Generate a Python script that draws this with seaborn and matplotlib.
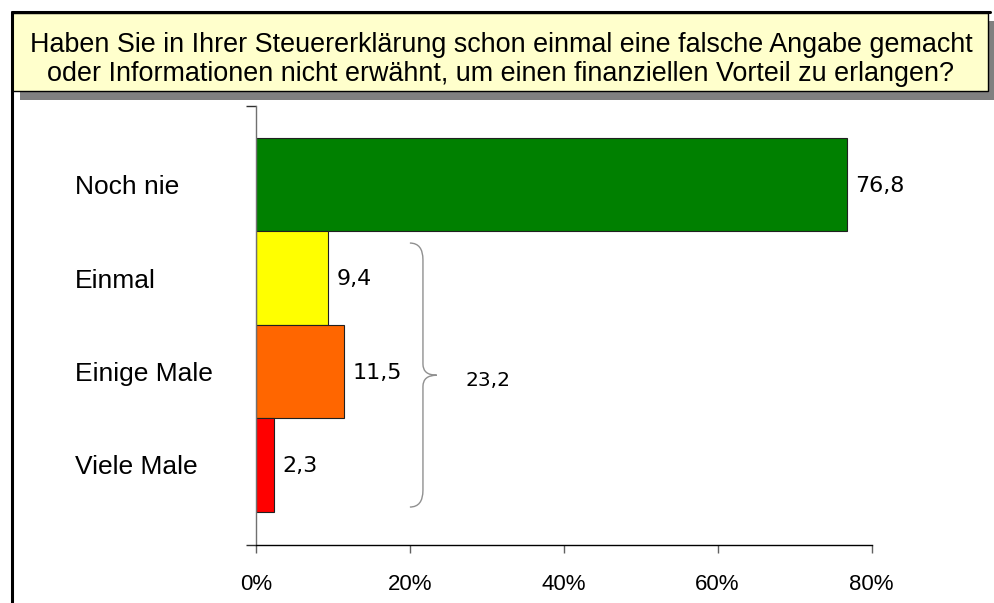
import matplotlib
matplotlib.use("Agg")
import matplotlib.pyplot as plt
import seaborn as sns
import pandas as pd
from matplotlib import font_manager as fm
from matplotlib.patches import Rectangle, PathPatch
from matplotlib.path import Path
from matplotlib.lines import Line2D

# ---- data ----
categories = ["Noch nie", "Einmal", "Einige Male", "Viele Male"]
values = [76.8, 9.4, 11.5, 2.3]
colors = ["#008000", "#FFFF00", "#FF6600", "#FF0000"]
xticks = [0, 20, 40, 60, 80]
xticklabels = ["0%", "20%", "40%", "60%", "80%"]
group = ["Einmal", "Einige Male", "Viele Male"]
title_lines = [
    "Haben Sie in Ihrer Steuererklärung schon einmal eine falsche Angabe gemacht",
    "oder Informationen nicht erwähnt, um einen finanziellen Vorteil zu erlangen?",
]

sns.set_theme(style="white")
plt.rcParams["font.family"] = ["Liberation Sans", "DejaVu Sans"]

W, H = 995, 603
fig = plt.figure(figsize=(W / 100, H / 100), dpi=100)
fig.patch.set_facecolor("white")


def fx(px):
    return px / W


def fy(py):
    return 1 - py / H


ax = fig.add_axes([fx(256), fy(545), fx(871.5) - fx(256), fy(106) - fy(545)])
df = pd.DataFrame({"cat": categories, "val": values})
sns.barplot(data=df, x="val", y="cat", hue="cat", palette=colors, saturation=1,
            width=1.0, edgecolor="#202020", linewidth=0.8, legend=False,
            orient="h", ax=ax)

ax.set_xlim(0, 80)
ax.set_ylim(3.856, -0.84)
ax.set_xlabel("")
ax.set_ylabel("")
for s in ["top", "right"]:
    ax.spines[s].set_visible(False)
ax.spines["left"].set_color("#707070")
ax.spines["left"].set_linewidth(1.0)
ax.spines["bottom"].set_color("#000000")
ax.spines["bottom"].set_linewidth(1.0)

ax.set_xticks(xticks, xticklabels)
ax.tick_params(axis="x", bottom=True, direction="out", length=6, width=1,
               color="#606060", labelsize=16, pad=15, labelcolor="black")
ax.set_yticks(range(len(categories)), categories)
ax.tick_params(axis="y", which="major", left=True, length=0, labelsize=19,
               pad=130.5, labelcolor="black")
for lab in ax.get_yticklabels():
    lab.set_horizontalalignment("left")
ax.set_yticks([-0.84, 3.856], minor=True)
ax.tick_params(axis="y", which="minor", left=True, direction="out", length=7,
               width=1, color="#303030")

# value labels
for i, v in enumerate(values):
    ax.annotate(f"{v:.1f}".replace(".", ","), xy=(v, i), xytext=(6, -1),
                textcoords="offset points", ha="left", va="center",
                fontsize=16, family="DejaVu Sans", color="black")

# brace for the group
x0, x1, xm = 20.0, 21.7, 23.5
yt, yb, ym = 0.626, 3.45, 2.04
r, r2 = 0.18, 0.12
verts = [(x0, yt), (x1, yt), (x1, yt + r),
         (x1, ym - r2), (x1, ym), (xm, ym),
         (x1, ym), (x1, ym + r2),
         (x1, yb - r), (x1, yb), (x0, yb)]
codes = [Path.MOVETO, Path.CURVE3, Path.CURVE3,
         Path.LINETO, Path.CURVE3, Path.CURVE3,
         Path.CURVE3, Path.CURVE3,
         Path.LINETO, Path.CURVE3, Path.CURVE3]
ax.add_patch(PathPatch(Path(verts, codes), fill=False, edgecolor="#909090",
                       linewidth=1.0, clip_on=False))
total = sum(values[categories.index(g)] for g in group)
ax.text(27.2, 2.1, f"{total:.1f}".replace(".", ","), ha="left", va="center",
        fontsize=14.5, family="DejaVu Sans", color="black")

# title box with shadow
fig.patches.append(Rectangle((fx(20), fy(100)), fx(996) - fx(20), fy(21) - fy(100),
                             transform=fig.transFigure, facecolor="#808080",
                             edgecolor="none", zorder=1))
fig.patches.append(Rectangle((fx(12), fy(91)), fx(988) - fx(12), fy(13) - fy(91),
                             transform=fig.transFigure, facecolor="#FFFFCC",
                             edgecolor="#000000", linewidth=1.0, zorder=2))
fig.add_artist(Line2D([fx(12), fx(990)], [fy(12), fy(12)], color="black",
                      linewidth=2.2, transform=fig.transFigure, zorder=5))
fig.add_artist(Line2D([fx(12), fx(12)], [fy(12), fy(603)], color="black",
                      linewidth=2.2, transform=fig.transFigure, zorder=5))

names = {f.name for f in fm.fontManager.ttflist}
tfam = "Liberation Sans Narrow" if "Liberation Sans Narrow" in names else "Liberation Sans"
t1 = fig.text(fx(501), fy(45), title_lines[0], ha="center", va="center",
              fontsize=18, family=tfam, color="black", zorder=6)
t2 = fig.text(fx(501), fy(74), title_lines[1], ha="center", va="center",
              fontsize=18, family=tfam, color="black", zorder=6)
renderer = fig.canvas.get_renderer()
w = t1.get_window_extent(renderer).width
fs = 18 * 942 / w
t1.set_fontsize(fs)
t2.set_fontsize(fs)

fig.savefig("out.png", dpi=100)
